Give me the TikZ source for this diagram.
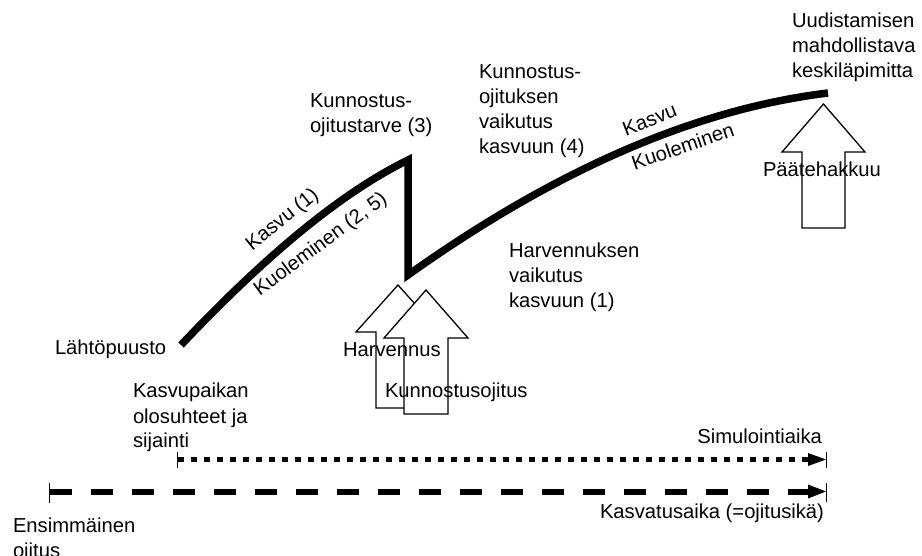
\documentclass[tikz,border=0pt]{standalone}
\usepackage{fontspec}
\setmainfont{Liberation Sans}
\newcommand{\mlines}[1]{\begin{tabular}[t]{@{}l@{}}#1\end{tabular}}
\begin{document}
\begin{tikzpicture}[x=1pt,y=-1pt,
  every node/.style={inner sep=0pt, outer sep=0pt, font=\fontsize{20.2}{25}\selectfont},
  lbl/.style={anchor=base west},
  rlbl/.style={anchor=base east},
  slbl/.style={anchor=base},
  stem/.style={line width=7.5pt, line join=miter, line cap=butt},
  blockarrow/.style={draw=black, fill=white, line width=1.3pt, line join=miter},
  tick/.style={line width=1pt},
  dottedline/.style={line width=5.5pt, dash pattern=on 6pt off 7pt},
  dashedline/.style={line width=6pt, dash pattern=on 22pt off 19pt},
  tip/.style={fill=black}]
\useasboundingbox (0,0) rectangle (922,556);

% main growth curve
\coordinate (start) at (181,345);
\coordinate (peak) at (408,160);
\coordinate (dip) at (408,275);
\coordinate (final) at (828,93);
\draw[stem] (start) .. controls (256,266) and (333,197) .. (peak)
  -- (dip) .. controls (547,176) and (688,110) .. (final);

% block arrows
\draw[blockarrow] (376,408) -- (376,332) -- (356,332) -- (398,285) -- (440,332) -- (420,332) -- (420,408) -- cycle;
\draw[blockarrow] (404,414) -- (404,338) -- (384,338) -- (426,290) -- (468,338) -- (448,338) -- (448,414) -- cycle;
\draw[blockarrow] (802,228) -- (802,152) -- (782,152) -- (823.5,104) -- (865,152) -- (845,152) -- (845,228) -- cycle;

% texts
\node[lbl] (lahto) at (55,355) {Lähtöpuusto};
\node[lbl] (ktarve) at (310,108) {\mlines{Kunnostus-\\ojitustarve (3)}};
\node[lbl] (kvaik) at (479,79) {\mlines{Kunnostus-\\ojituksen\\vaikutus\\kasvuun (4)}};
\node[lbl] (uud) at (792,28) {\mlines{Uudistamisen\\mahdollistava\\keskiläpimitta}};
\node[lbl] (hvaik) at (509,258) {\mlines{Harvennuksen\\vaikutus\\kasvuun (1)}};
\node[lbl] (kpaikka) at (133,398) {\mlines{Kasvupaikan\\olosuhteet ja\\sijainti}};
\node[lbl] (ens) at (13,532) {\mlines{Ensimmäinen\\ojitus}};
\node[rlbl] (sim) at (822,443) {Simulointiaika};
\node[rlbl] (kasvat) at (824,518) {Kasvatusaika (=ojitusikä)};
\node[lbl] (harv) at (343,357) {Harvennus};
\node[lbl] (kojit) at (385,398) {Kunnostusojitus};
\node[lbl] (paate) at (763,177) {Päätehakkuu};

% labels along the curve
\node[slbl, rotate=39] (kasvu1) at (286,224) {Kasvu (1)};
\node[slbl, rotate=36.5] (kuol1) at (324,249) {Kuoleminen (2, 5)};
\node[slbl, rotate=21] (kasvu2) at (652,126) {Kasvu};
\node[slbl, rotate=19] (kuol2) at (685,153) {Kuoleminen};

% time axes
\coordinate (simA) at (178,459.5);
\coordinate (simB) at (808,459.5);
\coordinate (simEnd) at (826,459.5);
\coordinate (kasA) at (50,491.5);
\coordinate (kasB) at (808,491.5);
\coordinate (kasEnd) at (826,491.5);

\draw[dottedline] (simA) -- (simB);
\fill[tip] (808,453) -- (simEnd) -- (808,466) -- cycle;
\draw[tick] (177,452) -- (177,468);
\draw[tick] (826,452) -- (826,468);

\draw[dashedline] (kasA) -- (kasB);
\fill[tip] (808,484.5) -- (kasEnd) -- (808,498.5) -- cycle;
\draw[tick] (49,483) -- (49,503);
\draw[tick] (826,483) -- (826,502);
\end{tikzpicture}
\end{document}
